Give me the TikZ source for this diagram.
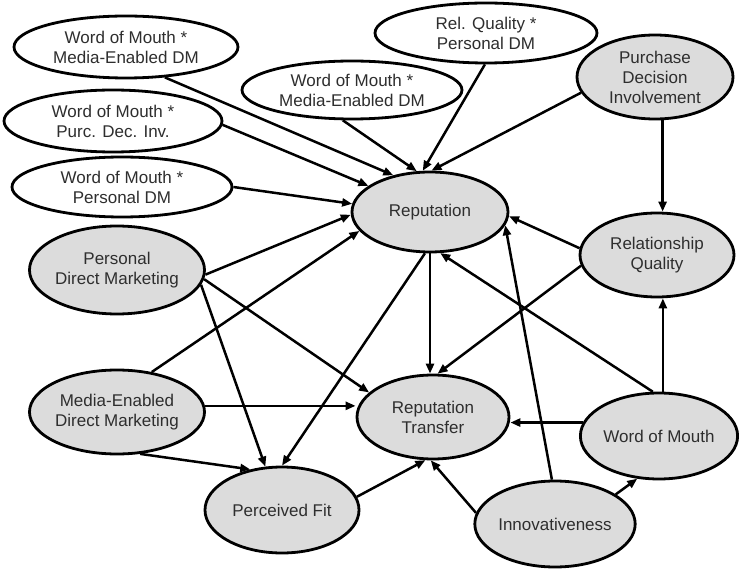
\documentclass[tikz,border=0pt]{standalone}
\usepackage{fontspec}
\setmainfont{Liberation Sans}
\usetikzlibrary{shapes.geometric,arrows.meta}
\definecolor{txt}{HTML}{2E2E2E}
\definecolor{shade}{HTML}{DCDCDC}
\tikzset{
  construct/.style={ellipse, draw=black, line width=2.8pt, inner sep=0pt,
    align=center, text=txt, font=\fontsize{17}{20}\selectfont},
  latent/.style={construct, fill=shade},
  inter/.style={construct, fill=white},
  link/.style={line width=2.5pt, -{Triangle[length=10pt,width=8pt]}}
}
\begin{document}
\begin{tikzpicture}[x=1pt,y=-1pt]
\useasboundingbox (0,0) rectangle (739,569);

% interaction terms
\node[inter, minimum width=224pt, minimum height=62pt] (A) at (126,47) {Word of Mouth *\\Media-Enabled DM};
\node[inter, minimum width=218pt, minimum height=62pt] (B) at (113,121) {Word of Mouth *\\Purc. Dec. Inv.};
\node[inter, minimum width=220pt, minimum height=60pt] (C) at (122,187) {Word of Mouth *\\Personal DM};
\node[inter, minimum width=220pt, minimum height=58pt] (D) at (352,90) {Word of Mouth *\\Media-Enabled DM};
\node[inter, minimum width=222pt, minimum height=60pt] (E) at (486,33) {Rel. Quality *\\Personal DM};

% constructs
\node[latent, minimum width=156pt, minimum height=84pt] (F) at (655,77) {Purchase\\Decision\\Involvement};
\node[latent, minimum width=156pt, minimum height=80pt] (G) at (430,212) {Reputation};
\node[latent, minimum width=154pt, minimum height=84pt] (H) at (657,255) {Relationship\\Quality};
\node[latent, minimum width=156pt, minimum height=88pt] (I) at (117,270) {Personal\\Direct Marketing};
\node[latent, minimum width=156pt, minimum height=84pt] (J) at (117,412) {Media-Enabled\\Direct Marketing};
\node[latent, minimum width=154pt, minimum height=86pt] (K) at (282,510) {Perceived Fit};
\node[latent, minimum width=152pt, minimum height=84pt] (L) at (433,417) {Reputation\\Transfer};
\node[latent, minimum width=152pt, minimum height=86pt] (M) at (659,436) {Word of Mouth};
\node[latent, minimum width=154pt, minimum height=86pt] (N) at (555,524) {Innovativeness};

% paths into Reputation
\draw[link] (A.-38) -- (G.135);
\draw[link] (B.-2) -- (G.157);
\draw[link] (C.0) -- (G.174);
\draw[link] (D.-107) -- (G.108);
\draw[link] (E.-92) -- (G.100);
\draw[link] (F.-168) -- (G.88);
\draw[link] (H.175) -- (G.-3);
\draw[link] (I.-3) -- (G.182);
\draw[link] (J.49) -- (G.195);
\draw[link] (N.94) -- (G.-10);
\draw[link] (M.98) -- (G.-76);

% paths into Relationship Quality
\draw[link] (F.-80) -- (F.-80 |- H.north);
\draw[link] (M.85) -- (M.85 |- H.south);

% paths into Reputation Transfer
\draw[link] (G.south) -- (G.south |- L.north);
\draw[link] (H.-172) -- (L.84);
\draw[link] (I.-6) -- (L.159);
\draw[link] (J.4) -- (J.4 -| L.west);
\draw[link] (K.10) -- (L.-100);
\draw[link] (N.172) -- (L.-93);
\draw[link] (M.170) -- (M.170 -| L.east);

% paths into Perceived Fit
\draw[link] (I.-10) -- (K.111);
\draw[link] (G.-97) -- (K.90);
\draw[link] (J.-61) -- (K.128);

% Innovativeness to Word of Mouth
\draw[link] (N.26) -- (M.-117);
\end{tikzpicture}
\end{document}
